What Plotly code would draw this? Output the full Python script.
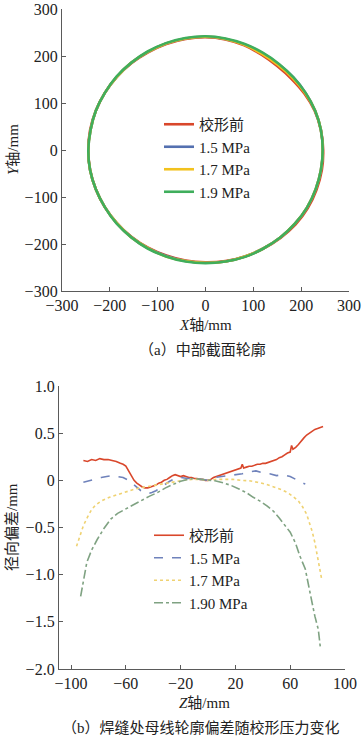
import numpy as np
import plotly.graph_objects as go

W, H = 362, 739

# ---------------- data: (a) mid-section profile (polar radius vs angle) -------------
angles_deg = [0, 10, 20, 30, 40, 50, 60, 70, 80, 90, 100, 110, 120, 130, 140, 150, 160, 170,
              180, 190, 200, 210, 220, 230, 240, 250, 260, 270, 280, 290, 300, 310, 320, 330, 340, 350]
r_before = [246, 245, 243, 239, 235, 233, 234, 237, 239, 240, 240, 240, 240, 241, 242, 243, 244, 245,
            245, 245, 244, 243, 242, 241, 240, 239, 239, 239, 240, 241, 242, 244, 246, 247, 247, 247]
r_15 = [245, 245, 244, 242, 240, 238, 238, 239, 240, 241, 241, 241, 241, 242, 242, 243, 244, 244,
        245, 245, 244, 243, 242, 242, 241, 240, 240, 240, 241, 241, 242, 243, 244, 245, 245, 245]
r_17 = [245, 245, 244, 241, 238, 236, 236, 238, 240, 241, 241, 241, 241, 242, 242, 243, 244, 244,
        245, 245, 244, 243, 242, 242, 241, 241, 240, 240, 241, 241, 242, 243, 244, 245, 245, 245]
r_19 = [245, 245, 244, 242, 240, 239, 239, 240, 241, 242, 242, 242, 242, 242, 243, 243, 244, 244,
        245, 245, 244, 243, 243, 242, 242, 241, 241, 241, 241, 242, 242, 243, 244, 245, 245, 245]

names_a = ["校形前", "1.5 MPa", "1.7 MPa", "1.9 MPa"]
ticks_a = [-300, -200, -100, 0, 100, 200, 300]

# ---------------- data: (b) radial deviation along generatrix at weld -------------
z_before = [-91, -88, -85, -82, -79, -76, -73, -70, -67, -64, -62, -60, -58, -56, -54, -52, -50, -48,
            -46, -44, -42, -40, -38, -36, -34, -32, -30, -28, -26, -24, -22, -20, -18, -16, -14, -12,
            -10, -8, -6, -4, -2, 0, 2, 4, 6, 8, 10, 12, 14, 16, 18, 20, 22, 24, 25, 26, 28, 30, 32,
            34, 36, 38, 40, 42, 44, 46, 48, 50, 52, 54, 56, 58, 60, 61, 62, 64, 66, 68, 70, 72, 74,
            76, 78, 80, 82, 84]
d_before = [0.21, 0.20, 0.22, 0.21, 0.23, 0.22, 0.22, 0.21, 0.20, 0.18, 0.17, 0.15, 0.10, 0.05, 0.00,
            -0.03, -0.05, -0.07, -0.08, -0.08, -0.07, -0.06, -0.05, -0.03, -0.02, 0.00, 0.01, 0.03,
            0.05, 0.06, 0.05, 0.04, 0.05, 0.04, 0.03, 0.03, 0.02, 0.02, 0.01, 0.01, 0.00, 0.00, 0.01,
            0.03, 0.04, 0.05, 0.06, 0.07, 0.08, 0.09, 0.10, 0.11, 0.12, 0.13, 0.17, 0.13, 0.14, 0.15,
            0.15, 0.16, 0.17, 0.17, 0.18, 0.18, 0.19, 0.20, 0.21, 0.22, 0.24, 0.25, 0.27, 0.29, 0.30,
            0.37, 0.33, 0.35, 0.38, 0.42, 0.45, 0.48, 0.50, 0.52, 0.54, 0.55, 0.56, 0.57]

z_15 = [-91, -86, -82, -78, -74, -70, -66, -62, -58, -55, -52, -49, -46, -44, -41, -38, -35, -32, -28,
        -24, -20, -15, -10, -5, 0, 5, 10, 15, 20, 25, 30, 35, 40, 45, 50, 55, 60, 64, 68, 71]
d_15 = [-0.02, 0.00, 0.02, 0.03, 0.04, 0.05, 0.04, 0.03, 0.00, -0.04, -0.08, -0.11, -0.13, -0.14,
        -0.13, -0.11, -0.08, -0.05, -0.01, 0.02, 0.03, 0.02, 0.02, 0.01, 0.00, 0.03, 0.04, 0.05, 0.06,
        0.07, 0.09, 0.10, 0.08, 0.07, 0.05, 0.06, 0.04, 0.01, -0.02, -0.04]

z_17 = [-96, -94, -91, -88, -85, -82, -78, -72, -66, -60, -54, -48, -42, -36, -30, -24, -18, -12, -6,
        0, 6, 12, 18, 24, 30, 36, 42, 48, 54, 58, 62, 66, 69, 72, 74, 76, 78, 80, 82, 83]
d_17 = [-0.70, -0.62, -0.48, -0.39, -0.31, -0.26, -0.22, -0.18, -0.15, -0.12, -0.095, -0.075, -0.06,
        -0.04, -0.025, -0.01, 0.00, 0.01, 0.01, 0.00, 0.01, 0.01, 0.01, 0.00, -0.005, -0.02, -0.04,
        -0.07, -0.10, -0.13, -0.17, -0.22, -0.28, -0.36, -0.44, -0.54, -0.66, -0.82, -0.98, -1.05]

z_19 = [-93, -91, -88.5, -85, -81, -76, -71, -66, -61, -55, -49, -43, -37, -31, -25, -20, -15, -10,
        -5, 0, 5, 11, 17, 23, 28, 33, 38, 43, 48, 52, 56, 60, 64, 67, 71, 73, 76, 78, 80.5, 82]
d_19 = [-1.23, -1.05, -0.87, -0.74, -0.63, -0.51, -0.41, -0.35, -0.31, -0.26, -0.22, -0.17, -0.13,
        -0.08, -0.04, -0.01, 0.01, 0.02, 0.01, 0.00, -0.005, -0.025, -0.055, -0.095, -0.13, -0.18,
        -0.22, -0.27, -0.33, -0.40, -0.47, -0.55, -0.67, -0.80, -0.94, -1.10, -1.30, -1.44, -1.58, -1.77]

names_b = ["校形前", "1.5 MPa", "1.7 MPa", "1.90 MPa"]
xticks_b = [-100, -60, -20, 20, 60, 100]
yticks_b = [1.0, 0.5, 0, -0.5, -1.0, -1.5, -2.0]
yticklabels_b = ["1.0", "0.5", "0", "\u22120.5", "\u22121.0", "\u22121.5", "\u22122.0"]

# ---------------- styling -------------
FONT = "Liberation Serif, Times New Roman, Noto Sans CJK SC, serif"
TXT = "#222222"
AX = "#5a5a5a"
col_a = ["#d9472b", "#5470b0", "#f2c21e", "#3fae5c"]
col_b = ["#d9472b", "#6f82bb", "#efd272", "#7fa282"]
dash_b = ["solid", "dash", "dot", "dashdot"]


def px_x(p):
    return p / W


def px_y(p):
    return 1 - p / H


fig = go.Figure()

theta = np.deg2rad(np.array(angles_deg + [angles_deg[0]], dtype=float))
for name, r, c in zip(names_a, [r_before, r_15, r_17, r_19], col_a):
    rr = np.array(r + [r[0]], dtype=float)
    fig.add_trace(go.Scatter(x=rr * np.cos(theta), y=rr * np.sin(theta), mode="lines",
                             name=name, line=dict(color=c, width=2.6, shape="spline"),
                             xaxis="x", yaxis="y", legend="legend"))

for name, z, d, c, ds in zip(names_b, [z_before, z_15, z_17, z_19],
                             [d_before, d_15, d_17, d_19], col_b, dash_b):
    fig.add_trace(go.Scatter(x=z, y=d, mode="lines", name=name,
                             line=dict(color=c, width=1.6, dash=ds),
                             xaxis="x2", yaxis="y2", legend="legend2"))

axis_common = dict(showline=True, linecolor=AX, linewidth=1.3, ticks="inside", ticklen=4,
                   tickcolor=AX, tickwidth=1.3, showgrid=False, zeroline=False,
                   tickfont=dict(family=FONT, size=16, color=TXT), mirror=False,
                   automargin=False)

fig.update_layout(
    width=W, height=H,
    margin=dict(l=0, r=0, t=0, b=0),
    paper_bgcolor="white", plot_bgcolor="white",
    font=dict(family=FONT, color=TXT),
    xaxis=dict(domain=[px_x(62), px_x(349)], range=[-300, 300], tickvals=ticks_a,
               anchor="y", **axis_common),
    yaxis=dict(domain=[px_y(291), px_y(9)], range=[-300, 300], tickvals=ticks_a,
               anchor="x", **axis_common),
    xaxis2=dict(domain=[px_x(59), px_x(345)], range=[-108.8, 100], tickvals=xticks_b,
                anchor="y2", **axis_common),
    yaxis2=dict(domain=[px_y(669), px_y(386)], range=[-2.0, 1.0], tickvals=yticks_b,
                ticktext=yticklabels_b, anchor="x2", **axis_common),
    legend=dict(x=px_x(159), y=px_y(108), xanchor="left", yanchor="top",
                bgcolor="rgba(0,0,0,0)", font=dict(family=FONT, size=15, color=TXT),
                tracegroupgap=0, itemwidth=30),
    legend2=dict(x=px_x(149), y=px_y(519), xanchor="left", yanchor="top",
                 bgcolor="rgba(0,0,0,0)", font=dict(family=FONT, size=15, color=TXT),
                 tracegroupgap=0, itemwidth=30),
    showlegend=True,
)

ann = [
    dict(text="<i>X</i>轴/mm", x=px_x(205), y=px_y(325), textangle=0),
    dict(text="<i>Y</i>轴/mm", x=px_x(13), y=px_y(150), textangle=-90),
    dict(text="（a）中部截面轮廓", x=px_x(203), y=px_y(350), textangle=0),
    dict(text="<i>Z</i>轴/mm", x=px_x(204), y=px_y(703), textangle=0),
    dict(text="径向偏差/mm", x=px_x(12), y=px_y(527), textangle=-90),
    dict(text="（b）焊缝处母线轮廓偏差随校形压力变化", x=px_x(201), y=px_y(728), textangle=0),
]
for a in ann:
    fig.add_annotation(text=a["text"], x=a["x"], y=a["y"], xref="paper", yref="paper",
                       showarrow=False, textangle=a["textangle"], xanchor="center",
                       yanchor="middle", font=dict(family=FONT, size=15, color=TXT))

# remove the default 8px page margin so the figure fills the window exactly
fig.write_html("out.html",
               config={"displayModeBar": False},
               post_script="document.body.style.margin='0px';document.body.style.overflow='hidden';")
